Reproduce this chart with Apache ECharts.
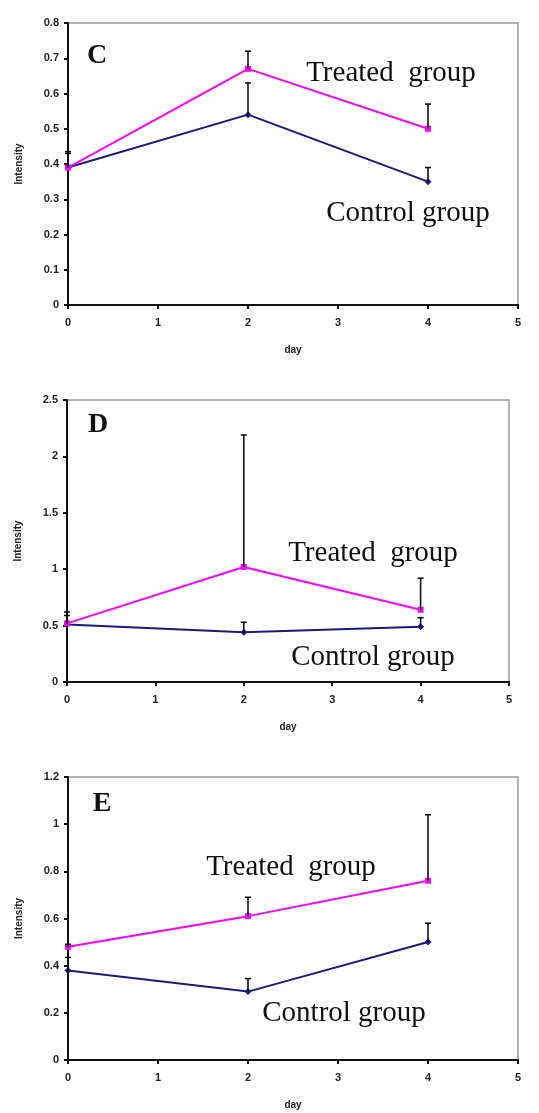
<!DOCTYPE html>
<html>
<head>
<meta charset="utf-8">
<script src="https://cdn.jsdelivr.net/npm/echarts@6/dist/echarts.min.js"></script>
<style>
  html, body { margin: 0; padding: 0; background: #fff; }
  #chart { width: 539px; height: 1113px; }
</style>
</head>
<body>
<div id="chart"></div>
<script>
const days = [0, 2, 4];

// panel C
const treatedC = [0.39, 0.67, 0.50];
const treatedErrC = [0.045, 0.05, 0.07];
const controlC = [0.39, 0.54, 0.35];
const controlErrC = [0.04, 0.09, 0.04];

// panel D
const treatedD = [0.52, 1.02, 0.64];
const treatedErrD = [0.1, 1.17, 0.28];
const controlD = [0.51, 0.44, 0.49];
const controlErrD = [0.08, 0.09, 0.08];

// panel E
const treatedE = [0.48, 0.61, 0.76];
const treatedErrE = [0.01, 0.08, 0.28];
const controlE = [0.38, 0.29, 0.50];
const controlErrE = [0.055, 0.055, 0.08];

const panelLetters = ["C", "D", "E"];
const yMax = [0.8, 2.5, 1.2];
const yStep = [0.1, 0.5, 0.2];

const MAGENTA = "#ff00ff";
const NAVY = "#1a1a80";
const tickFont = { color: "#222", fontSize: 11, fontWeight: "bold", fontFamily: "Liberation Sans, Arial" };

const grids = [
  { left: 68, top: 23, width: 450, height: 282 },
  { left: 67, top: 400, width: 442, height: 282 },
  { left: 68, top: 777, width: 450, height: 283 }
];

function pairs(values) {
  return days.map((d, i) => [d, values[i]]);
}

function errPairs(values, errs) {
  return days.map((d, i) => [d, values[i], errs[i]]);
}

function errorBarSeries(idx, values, errs) {
  return {
    type: "custom",
    xAxisIndex: idx,
    yAxisIndex: idx,
    z: 5,
    silent: true,
    data: errPairs(values, errs),
    renderItem(params, api) {
      const x = api.value(0);
      const y = api.value(1);
      const e = api.value(2);
      const p0 = api.coord([x, y]);
      const p1 = api.coord([x, y + e]);
      const style = { stroke: "#111", lineWidth: 1.6 };
      return {
        type: "group",
        children: [
          { type: "line", shape: { x1: p0[0], y1: p0[1], x2: p1[0], y2: p1[1] }, style },
          { type: "line", shape: { x1: p1[0] - 3, y1: p1[1], x2: p1[0] + 3, y2: p1[1] }, style }
        ]
      };
    }
  };
}

function lineSeries(idx, values, color, symbol) {
  return {
    type: "line",
    xAxisIndex: idx,
    yAxisIndex: idx,
    data: pairs(values),
    symbol,
    symbolSize: symbol === "rect" ? 6 : 7,
    lineStyle: { color, width: 2 },
    itemStyle: { color },
    z: 3,
    animation: false
  };
}

const xAxes = grids.map((g, i) => ({
  type: "value",
  gridIndex: i,
  min: 0,
  max: 5,
  interval: 1,
  name: "day",
  nameLocation: "middle",
  nameGap: 40,
  nameTextStyle: { color: "#222", fontSize: 10, fontWeight: "bold", fontFamily: "Liberation Sans, Arial" },
  axisLine: { lineStyle: { color: "#111", width: 2 } },
  axisTick: { length: 4, lineStyle: { color: "#111", width: 2 } },
  axisLabel: Object.assign({ margin: 12 }, tickFont),
  splitLine: { show: false }
}));

const yAxes = grids.map((g, i) => ({
  type: "value",
  gridIndex: i,
  min: 0,
  max: yMax[i],
  interval: yStep[i],
  name: "Intensity",
  nameLocation: "middle",
  nameGap: 44,
  nameRotate: 90,
  nameTextStyle: { color: "#222", fontSize: 10, fontWeight: "bold", fontFamily: "Liberation Sans, Arial" },
  axisLine: { show: true, lineStyle: { color: "#111", width: 2 } },
  axisTick: { show: true, length: 4, lineStyle: { color: "#111", width: 2 } },
  axisLabel: Object.assign({ margin: 9 }, tickFont),
  splitLine: { show: false }
}));

const serifText = (text, x, y, size, bold) => ({
  type: "text",
  x,
  y,
  z: 10,
  style: {
    text,
    fill: "#111",
    font: (bold ? "bold " : "") + size + "px 'Liberation Serif', 'Times New Roman', serif",
    align: "center",
    verticalAlign: "middle"
  }
});

const chart = echarts.init(document.getElementById("chart"));
chart.setOption({
  backgroundColor: "#fff",
  animation: false,
  grid: grids.map((g) => Object.assign({ show: true, borderColor: "#9a9a9a", borderWidth: 1.5 }, g)),
  xAxis: xAxes,
  yAxis: yAxes,
  series: [
    lineSeries(0, controlC, NAVY, "diamond"),
    lineSeries(0, treatedC, MAGENTA, "rect"),
    errorBarSeries(0, controlC, controlErrC),
    errorBarSeries(0, treatedC, treatedErrC),
    lineSeries(1, controlD, NAVY, "diamond"),
    lineSeries(1, treatedD, MAGENTA, "rect"),
    errorBarSeries(1, controlD, controlErrD),
    errorBarSeries(1, treatedD, treatedErrD),
    lineSeries(2, controlE, NAVY, "diamond"),
    lineSeries(2, treatedE, MAGENTA, "rect"),
    errorBarSeries(2, controlE, controlErrE),
    errorBarSeries(2, treatedE, treatedErrE)
  ],
  graphic: [
    serifText(panelLetters[0], 97, 56, 28, true),
    serifText("Treated  group", 391, 73, 29, false),
    serifText("Control group", 408, 213, 29, false),
    serifText(panelLetters[1], 98, 425, 28, true),
    serifText("Treated  group", 373, 553, 29, false),
    serifText("Control group", 373, 657, 29, false),
    serifText(panelLetters[2], 102, 804, 28, true),
    serifText("Treated  group", 291, 867, 29, false),
    serifText("Control group", 344, 1013, 29, false)
  ]
});
</script>
</body>
</html>
